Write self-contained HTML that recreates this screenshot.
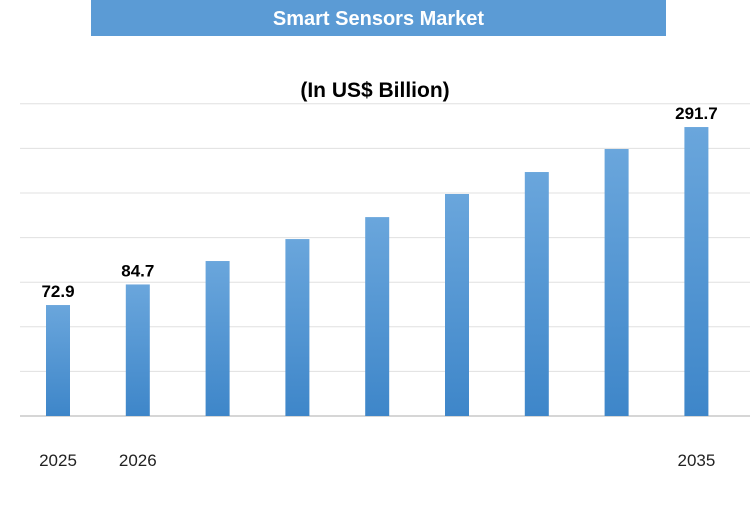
<!DOCTYPE html>
<html><head><meta charset="utf-8"><style>
body{margin:0;width:750px;height:500px;background:#fff;overflow:hidden;font-family:"Liberation Sans",sans-serif}
</style></head><body>
<svg width="750" height="500">
<defs><linearGradient id="g" x1="0" y1="0" x2="0" y2="1"><stop offset="0" stop-color="#6aa6dc"/><stop offset="1" stop-color="#3e86c9"/></linearGradient></defs>
<rect x="91" y="0" width="575" height="36" fill="#5b9bd5"/>
<text x="378.5" y="25" text-anchor="middle" fill="#fff" font-weight="bold" font-size="20">Smart Sensors Market</text>
<text x="375" y="97" text-anchor="middle" fill="#000" font-weight="bold" font-size="21">(In US$ Billion)</text>
<g id="grid"></g><g id="bars"></g><g id="labels"></g>
</svg>
<script>
const categories=["2025","2026","","","","","","","2035"];
const values=[72.9,98.2,127,154,181,209.4,236.4,264.7,291.7];
const valueLabels=["72.9","84.7","","","","","","","291.7"];
const yMin=-63.5, pxPerUnit=0.8135, baseY=416;
function y(v){return baseY-(v-yMin)*pxPerUnit;}
function xc(i){return 58+i*79.8;}
const ns="http://www.w3.org/2000/svg";
const grid=document.getElementById('grid'),bars=document.getElementById('bars'),labels=document.getElementById('labels');
for(let k=0;k<8;k++){const l=document.createElementNS(ns,'line');const gy=baseY-k*44.6;
l.setAttribute('x1',20);l.setAttribute('x2',750);l.setAttribute('y1',gy);l.setAttribute('y2',gy);
l.setAttribute('stroke',k==0?'#c8c8c8':'#e0e0e0');l.setAttribute('stroke-width',k==0?1.5:1);

grid.appendChild(l);}
values.forEach((v,i)=>{const r=document.createElementNS(ns,'rect');
r.setAttribute('x',xc(i)-12);r.setAttribute('width',24);r.setAttribute('y',y(v));r.setAttribute('height',baseY-y(v));r.setAttribute('fill','url(#g)');

bars.appendChild(r);
if(valueLabels[i]){const t=document.createElementNS(ns,'text');t.setAttribute('x',xc(i));t.setAttribute('y',y(v)-8);t.setAttribute('text-anchor','middle');t.setAttribute('font-weight','bold');t.setAttribute('font-size','17');t.textContent=valueLabels[i];

labels.appendChild(t);}
if(categories[i]){const t=document.createElementNS(ns,'text');t.setAttribute('x',xc(i));t.setAttribute('y',466);t.setAttribute('text-anchor','middle');t.setAttribute('font-size','17');t.setAttribute('fill','#222');t.textContent=categories[i];

labels.appendChild(t);}
});
</script>
</body></html>
